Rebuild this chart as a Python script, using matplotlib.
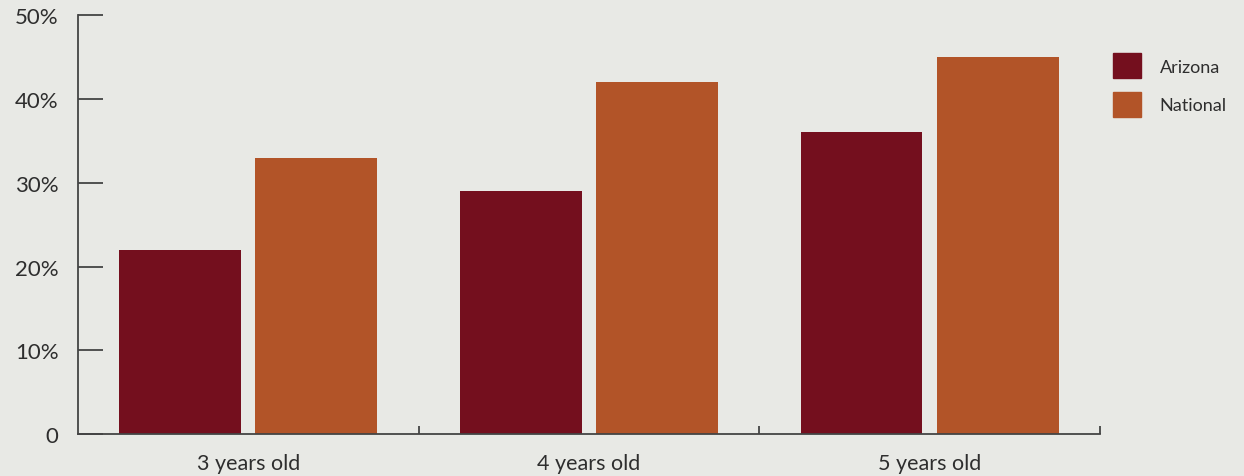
import matplotlib.pyplot as plt
import matplotlib.patches as mpatches

# === data ===
ages = ["3 years old", "4 years old", "5 years old"]
arizona = [22, 29, 36]
national = [33, 42, 45]
y_ticks = [0, 10, 20, 30, 40, 50]
y_labels = ["0", "10%", "20%", "30%", "40%", "50%"]

cor_az = "#740f1e"
cor_nat = "#b25428"
fundo = "#e8e9e5"
texto = "#2e2e2e"

plt.rcParams['font.family'] = ['Lato', 'DejaVu Sans']

fig = plt.figure(figsize=(12.44, 4.77), dpi=100, facecolor=fundo)
ax = fig.add_axes([0.0627, 0.088, 0.8215, 0.878])
ax.set_facecolor(fundo)

centros = [i + 0.5 for i in range(len(ages))]
w = 0.358
ax.bar([c - 0.2 for c in centros], arizona, width=w, color=cor_az, label="Arizona")
ax.bar([c + 0.2 for c in centros], national, width=w, color=cor_nat, label="National")

ax.set_xlim(0, 3)
ax.set_ylim(0, 50)

for s in ["top", "right"]:
    ax.spines[s].set_visible(False)
for s in ["left", "bottom"]:
    ax.spines[s].set_color("#444444")
    ax.spines[s].set_linewidth(1.3)

ax.set_yticks(y_ticks)
ax.set_yticklabels(y_labels)
ax.tick_params(axis="y", direction="in", length=18, width=1.3, color="#444444",
               labelsize=16, labelcolor=texto, pad=14)

# ticks on group boundaries, labels in the middle
ax.set_xticks([1, 2, 3])
ax.set_xticklabels([])
ax.tick_params(axis="x", which="major", direction="in", length=6, width=1.3, color="#444444")
ax.set_xticks(centros, minor=True)
ax.set_xticklabels(ages, minor=True)
ax.tick_params(axis="x", which="minor", length=0, labelsize=15.5, labelcolor=texto, pad=14)

handles = [mpatches.Patch(color=cor_az, label="Arizona"),
           mpatches.Patch(color=cor_nat, label="National")]
fig.legend(handles=handles, loc="upper left", bbox_to_anchor=(0.882, 0.92),
           frameon=False, fontsize=13, labelcolor=texto,
           handlelength=1.55, handleheight=1.75, handletextpad=1.0, labelspacing=0.75)

fig.savefig("out.png", dpi=100, facecolor=fundo)
